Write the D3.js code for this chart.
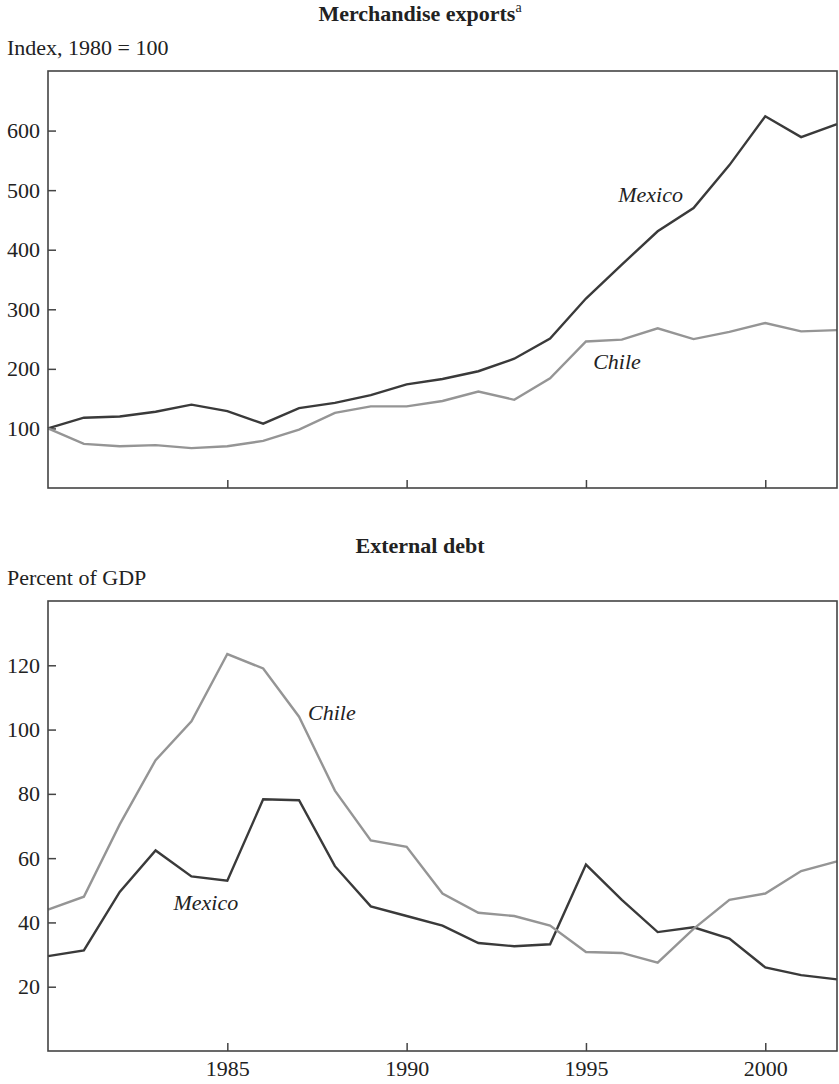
<!DOCTYPE html>
<html>
<head>
<meta charset="utf-8">
<script src="https://cdn.jsdelivr.net/npm/d3@7"></script>
<style>
 body { margin: 0; background: #fff; }
 svg { display: block; font-family: "Liberation Serif", "Times New Roman", serif; }
 .tick text { font-size: 22px; fill: #222; }
 .tick line { stroke: #444; stroke-width: 1.5; }
 .frame { fill: none; stroke: #444; stroke-width: 1.6; }
</style>
</head>
<body>
<svg width="839" height="1084"></svg>
<script>
const years = d3.range(1980, 2003);

// Merchandise exports, index 1980 = 100
const exportsMexico = [100, 118, 120, 128, 140, 129, 108, 134, 143, 156, 174, 183, 196, 217, 251, 318, 375, 431, 470, 542, 624, 589, 611];
const exportsChile = [100, 74, 70, 72, 67, 70, 79, 98, 126, 137, 137, 146, 162, 148, 184, 246, 249, 268, 250, 262, 277, 263, 265];

// External debt, percent of GDP
const debtMexico = [29.5, 31.3, 49.5, 62.4, 54.3, 53, 78.3, 78, 57.5, 45, 42, 39, 33.6, 32.6, 33.2, 58, 47, 37, 38.5, 35, 26, 23.6, 22.3];
const debtChile = [44, 48, 70.5, 90.5, 102.6, 123.5, 119, 104, 81, 65.5, 63.5, 49, 43, 42, 39, 30.8, 30.5, 27.5, 38, 47, 49, 56, 59];

const exportTicks = [100, 200, 300, 400, 500, 600];
const debtTicks = [20, 40, 60, 80, 100, 120];
const yearTicks = [1985, 1990, 1995, 2000];

const svg = d3.select("svg");
const left = 48;
const right = 837;
const serif = '"Liberation Serif", "Times New Roman", serif';

const x = d3.scaleLinear().domain([1980, 2002]).range([left, right]);

function drawPanel(p) {
 const y = d3.scaleLinear().domain(p.domain).range([p.bottom, p.top]);
 const g = svg.append("g");

 g.append("text")
  .attr("x", 420)
  .attr("y", p.titleY)
  .attr("text-anchor", "middle")
  .attr("font-size", 22)
  .attr("font-weight", "bold")
  .attr("fill", "#222")
  .text(p.title)
  .append("tspan")
  .attr("font-size", 14)
  .attr("font-weight", "normal")
  .attr("dy", -9)
  .text(p.sup || "");

 g.append("text")
  .attr("x", 7)
  .attr("y", p.unitY)
  .attr("font-size", 22)
  .attr("fill", "#222")
  .text(p.unit);

 g.append("g")
  .attr("transform", `translate(${left},0)`)
  .call(d3.axisLeft(y).tickValues(p.ticks).tickSizeInner(-8).tickSizeOuter(0).tickPadding(8))
  .call(a => a.select(".domain").remove())
  .attr("font-family", serif)
  .attr("font-size", 22);

 const xAxis = d3.axisBottom(x).tickValues(yearTicks).tickSizeInner(-8).tickSizeOuter(0).tickPadding(9)
  .tickFormat(p.yearLabels ? d3.format("d") : "");
 g.append("g")
  .attr("transform", `translate(0,${p.bottom})`)
  .call(xAxis)
  .call(a => a.select(".domain").remove())
  .attr("font-family", serif)
  .attr("font-size", 22);

 const line = d3.line().x((d, i) => x(years[i])).y(d => y(d));

 p.series.forEach(s => {
  g.append("path")
   .datum(s.values)
   .attr("fill", "none")
   .attr("stroke", s.color)
   .attr("stroke-width", 2.4)
   .attr("stroke-linejoin", "miter")
   .attr("d", line);
  g.append("text")
   .attr("x", x(s.label[0]))
   .attr("y", y(s.label[1]))
   .attr("font-size", 22)
   .attr("font-style", "italic")
   .attr("fill", "#222")
   .text(s.name);
 });

 g.append("rect")
  .attr("class", "frame")
  .attr("x", left)
  .attr("y", p.top)
  .attr("width", right - left)
  .attr("height", p.bottom - p.top);
}

drawPanel({
 title: "Merchandise exports",
 sup: "a",
 titleY: 21,
 unit: "Index, 1980 = 100",
 unitY: 55,
 top: 71,
 bottom: 488,
 domain: [0, 700],
 ticks: exportTicks,
 yearLabels: false,
 series: [
  { name: "Mexico", values: exportsMexico, color: "#3a3a3a", label: [1995.9, 480] },
  { name: "Chile", values: exportsChile, color: "#959595", label: [1995.2, 200] }
 ]
});

drawPanel({
 title: "External debt",
 titleY: 553,
 unit: "Percent of GDP",
 unitY: 585,
 top: 601,
 bottom: 1051,
 domain: [0, 140],
 ticks: debtTicks,
 yearLabels: true,
 series: [
  { name: "Mexico", values: debtMexico, color: "#3a3a3a", label: [1983.5, 43.8] },
  { name: "Chile", values: debtChile, color: "#959595", label: [1987.25, 103] }
 ]
});
</script>
</body>
</html>
